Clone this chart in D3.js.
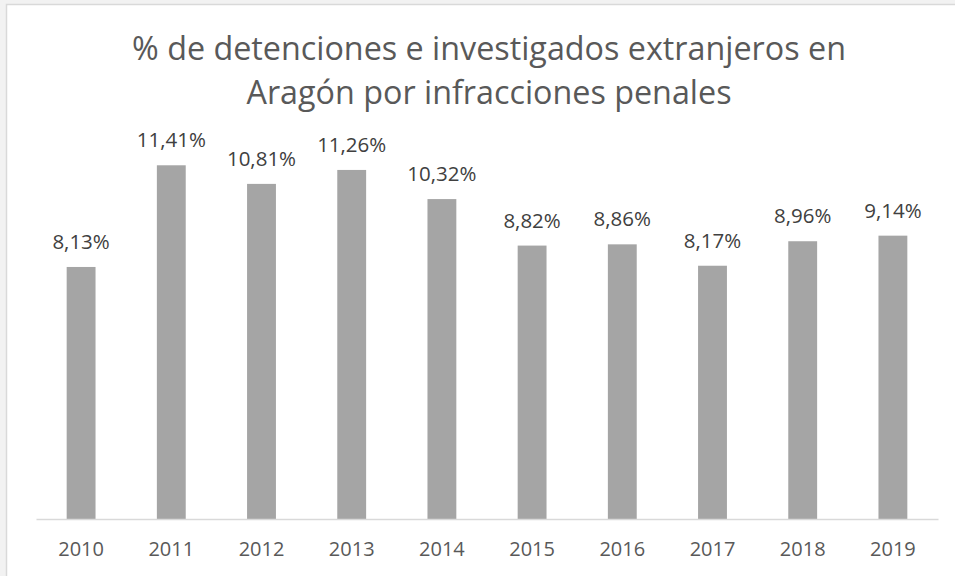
<!DOCTYPE html>
<html>
<head>
<meta charset="utf-8">
<script src="https://cdn.jsdelivr.net/npm/d3@7"></script>
<style>
  body { margin: 0; background: #f2f2f2; }
  svg { display: block; }
</style>
</head>
<body>
<div id="chart"></div>
<script>
// data
const years = ["2010", "2011", "2012", "2013", "2014", "2015", "2016", "2017", "2018", "2019"];
const pctValues = [8.13, 11.41, 10.81, 11.26, 10.32, 8.82, 8.86, 8.17, 8.96, 9.14];
const titleLines = ["% de detenciones e investigados extranjeros en", "Aragón por infracciones penales"];

const width = 955, height = 576;
const margin = {top: 85, right: 17, bottom: 57, left: 36};

const svg = d3.select("#chart").append("svg")
    .attr("width", width)
    .attr("height", height);

// chart area box
svg.append("rect")
    .attr("x", 6.5).attr("y", 4.5)
    .attr("width", width + 10).attr("height", height + 10)
    .attr("fill", "#ffffff")
    .attr("stroke", "#d9d9d9")
    .attr("stroke-width", 1.5);

svg.selectAll("text.title").data(titleLines)
    .enter().append("text")
    .attr("class", "title")
    .attr("x", 489)
    .attr("y", (d, i) => 60 + i * 44)
    .attr("text-anchor", "middle")
    .attr("fill", "#595959")
    .style("font-family", "'Open Sans', sans-serif")
    .style("font-size", "32.3px")
    .text(d => d);

let x = d3.scaleBand()
    .domain(years)
    .range([margin.left, width - margin.right])
    .paddingInner(0.68)
    .paddingOuter(0.34);

let y = d3.scaleLinear()
    .domain([0, 14])
    .range([height - margin.bottom, margin.top]);

let data = years.map((yr, i) => ({year: yr, value: pctValues[i]}));

svg.selectAll("rect.bar").data(data)
    .enter().append("rect")
    .attr("class", "bar")
    .attr("x", d => x(d.year))
    .attr("y", d => y(d.value))
    .attr("width", x.bandwidth())
    .attr("height", d => y(0) - y(d.value))
    .attr("fill", "#a5a5a5");

// baseline + category labels
let xAxis = svg.append("g")
    .attr("transform", "translate(0," + y(0) + ")")
    .call(d3.axisBottom(x).tickSize(0).tickPadding(23));
xAxis.select(".domain").attr("stroke", "#d9d9d9").attr("stroke-width", 1.5);
xAxis.selectAll("text")
    .attr("fill", "#595959")
    .style("font-family", "'Open Sans', sans-serif")
    .style("font-size", "20px");

svg.selectAll("text.lbl").data(data)
    .enter().append("text")
    .attr("class", "lbl")
    .attr("x", d => x(d.year) + x.bandwidth() / 2)
    .attr("y", d => y(d.value) - 18)
    .attr("text-anchor", "middle")
    .attr("fill", "#404040")
    .style("font-family", "'Open Sans', sans-serif")
    .style("font-size", "20.5px")
    .text(d => d.value.toFixed(2).replace(".", ",") + "%");
</script>
</body>
</html>
